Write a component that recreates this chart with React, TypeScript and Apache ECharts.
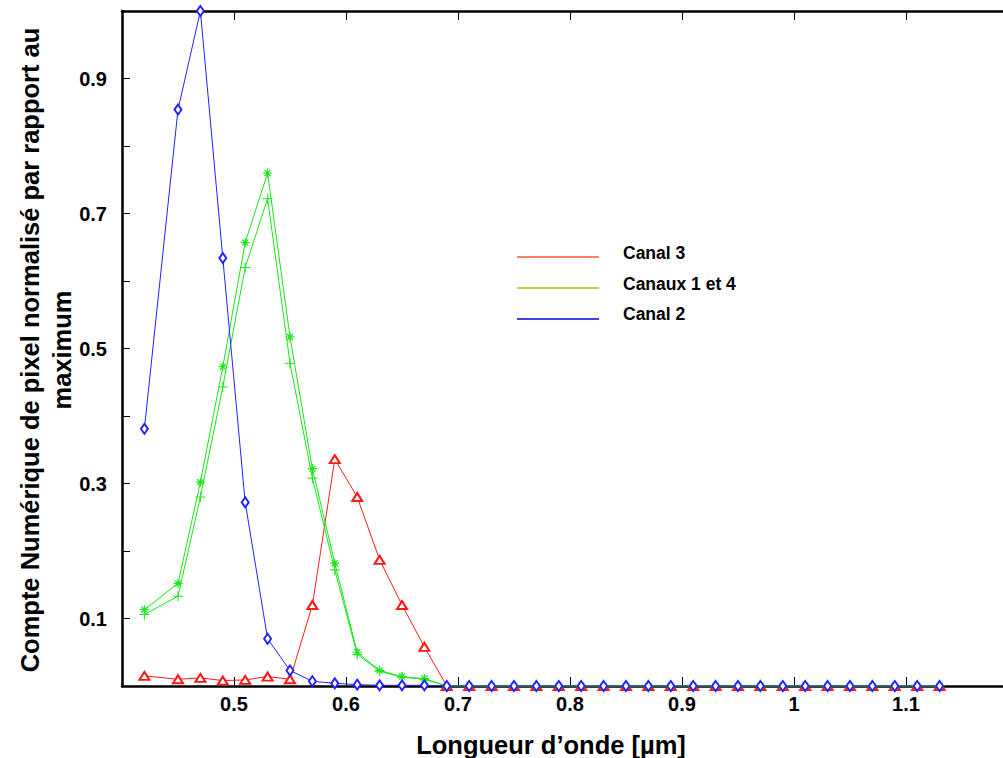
import React, { useEffect, useRef } from "react";
import * as echarts from "echarts";

const wavelengths = [
  0.42, 0.45, 0.47, 0.49, 0.51, 0.53, 0.55, 0.57, 0.59, 0.61, 0.63, 0.65,
  0.67, 0.69, 0.71, 0.73, 0.75, 0.77, 0.79, 0.81, 0.83, 0.85, 0.87, 0.89,
  0.91, 0.93, 0.95, 0.97, 0.99, 1.01, 1.03, 1.05, 1.07, 1.09, 1.11, 1.13,
];
const canal3 = [
  0.015, 0.01, 0.012, 0.008, 0.009, 0.014, 0.01, 0.12, 0.336, 0.28, 0.187,
  0.12, 0.058, 0, 0, 0, 0, 0, 0, 0, 0, 0, 0, 0, 0, 0, 0, 0, 0, 0, 0, 0, 0, 0,
  0, 0,
];
const canal1 = [
  0.113, 0.152, 0.302, 0.473, 0.657, 0.76, 0.517, 0.322, 0.182, 0.05, 0.023,
  0.014, 0.011, 0, 0, 0, 0, 0, 0, 0, 0, 0, 0, 0, 0, 0, 0, 0, 0, 0, 0, 0, 0, 0,
  0, 0,
];
const canal4 = [
  0.106, 0.133, 0.28, 0.443, 0.62, 0.722, 0.478, 0.308, 0.172, 0.047, 0.022,
  0.013, 0.01, 0, 0, 0, 0, 0, 0, 0, 0, 0, 0, 0, 0, 0, 0, 0, 0, 0, 0, 0, 0, 0,
  0, 0,
];
const canal2 = [
  0.381, 0.854, 1.0, 0.634, 0.272, 0.07, 0.023, 0.007, 0.004, 0.002, 0.001,
  0.001, 0.001, 0, 0, 0, 0, 0, 0, 0, 0, 0, 0, 0, 0, 0, 0, 0, 0, 0, 0, 0, 0, 0,
  0, 0,
];
const legendLabels = ["Canal 3", "Canaux 1 et 4", "Canal 2"];
const yLabelValues = ["0.1", "0.3", "0.5", "0.7", "0.9"];
const xLabelValues = ["0.5", "0.6", "0.7", "0.8", "0.9", "1", "1.1"];
const xTitle = "Longueur d’onde [µm]";
const yTitle = "Compte Numérique de pixel normalisé par rapport au\nmaximum";

const FONT = "'Liberation Sans', Arial, sans-serif";
const RED = "#ff1a1a";
const GREEN = "#19e619";
const BLUE = "#2222ff";

const STAR = "path://M5,0L5,10M0,5L10,5M1.6,1.6L8.4,8.4M8.4,1.6L1.6,8.4";
const PLUS = "path://M5,0L5,10M0,5L10,5";

function pairs(vals: number[]) {
  return wavelengths.map((x, i) => [x, vals[i]]);
}

export default function App() {
  const ref = useRef<HTMLDivElement>(null);
  useEffect(() => {
    document.body.style.margin = "0";
    const chart = echarts.init(ref.current!, null, { renderer: "svg" });
    const fmt1 = (v: number) => Math.round(v * 1000) / 1000;
    chart.setOption({
      animation: false,
      backgroundColor: "#ffffff",
      grid: {
        left: 122,
        top: 11,
        width: 896,
        height: 675,
        outerBoundsMode: "none",
      },
      xAxis: [
        {
          type: "value",
          min: 0.4,
          max: 1.2,
          interval: 0.1,
          position: "bottom",
          axisLine: { show: true, onZero: false, lineStyle: { color: "#000", width: 2.5 } },
          axisTick: { show: true, inside: true, length: 9, lineStyle: { color: "#000", width: 1 } },
          splitLine: { show: false },
          axisLabel: {
            margin: 8,
            color: "#000",
            fontFamily: FONT,
            fontWeight: "bold",
            fontSize: 20,
            formatter: (v: number) => {
              const s = String(fmt1(v));
              return xLabelValues.includes(s) ? s : "";
            },
          },
        },
        {
          type: "value",
          min: 0.4,
          max: 1.2,
          interval: 0.1,
          position: "top",
          axisLine: { show: true, onZero: false, lineStyle: { color: "#000", width: 2.5 } },
          axisTick: { show: true, inside: true, length: 9, lineStyle: { color: "#000", width: 1 } },
          splitLine: { show: false },
          axisLabel: { show: false },
        },
      ],
      yAxis: {
        type: "value",
        min: 0,
        max: 1,
        interval: 0.1,
        axisLine: { show: true, onZero: false, lineStyle: { color: "#000", width: 2.5 } },
        axisTick: { show: true, inside: true, length: 8, lineStyle: { color: "#000", width: 1 } },
        splitLine: { show: false },
        axisLabel: {
          margin: 15,
          color: "#000",
          fontFamily: FONT,
          fontWeight: "bold",
          fontSize: 20,
          formatter: (v: number) => {
            const s = fmt1(v).toFixed(1);
            return yLabelValues.includes(s) ? s : "";
          },
        },
      },
      series: [
        {
          name: legendLabels[0],
          type: "line",
          data: pairs(canal3),
          symbol: "emptyTriangle",
          symbolSize: [10, 8],
          lineStyle: { color: RED, width: 1 },
          itemStyle: { color: RED, borderColor: RED, borderWidth: 1 },
          z: 2,
        },
        {
          name: legendLabels[1] + " a",
          type: "line",
          data: pairs(canal1),
          symbol: STAR,
          symbolSize: 9,
          lineStyle: { color: GREEN, width: 1 },
          itemStyle: { color: GREEN, borderColor: GREEN, borderWidth: 1.2 },
          z: 3,
        },
        {
          name: legendLabels[1] + " b",
          type: "line",
          data: pairs(canal4),
          symbol: PLUS,
          symbolSize: 10,
          lineStyle: { color: GREEN, width: 1 },
          itemStyle: { color: GREEN, borderColor: GREEN, borderWidth: 1 },
          z: 3,
        },
        {
          name: legendLabels[2],
          type: "line",
          data: pairs(canal2),
          symbol: "emptyDiamond",
          symbolSize: [7, 10],
          lineStyle: { color: BLUE, width: 1 },
          itemStyle: { color: BLUE, borderColor: BLUE, borderWidth: 1 },
          z: 4,
        },
      ],
      graphic: [
        { type: "line", shape: { x1: 517, y1: 257, x2: 599, y2: 257 }, style: { stroke: "#ff5a3a", lineWidth: 1.3 } },
        { type: "line", shape: { x1: 517, y1: 288, x2: 599, y2: 288 }, style: { stroke: "#8fd400", lineWidth: 1.3 } },
        { type: "line", shape: { x1: 517, y1: 319, x2: 599, y2: 319 }, style: { stroke: "#0000dd", lineWidth: 1.3 } },
        ...legendLabels.map((t, i) => ({
          type: "text",
          x: 623,
          y: [253, 284, 314][i],
          style: {
            text: t,
            fill: "#000",
            font: `bold 17.5px ${FONT}`,
            textAlign: "left",
            textVerticalAlign: "middle",
          },
        })),
        {
          type: "text",
          x: 551,
          y: 745,
          style: {
            text: xTitle,
            fill: "#000",
            font: `bold 25.5px ${FONT}`,
            textAlign: "center",
            textVerticalAlign: "middle",
          },
        },
        {
          type: "text",
          x: 46,
          y: 350,
          rotation: Math.PI / 2,
          style: {
            text: yTitle,
            fill: "#000",
            font: `bold 25.5px ${FONT}`,
            lineHeight: 32,
            textAlign: "center",
            textVerticalAlign: "middle",
          },
        },
      ],
    });
    return () => chart.dispose();
  }, []);
  return <div ref={ref} style={{ width: 1003, height: 758 }} />;
}
